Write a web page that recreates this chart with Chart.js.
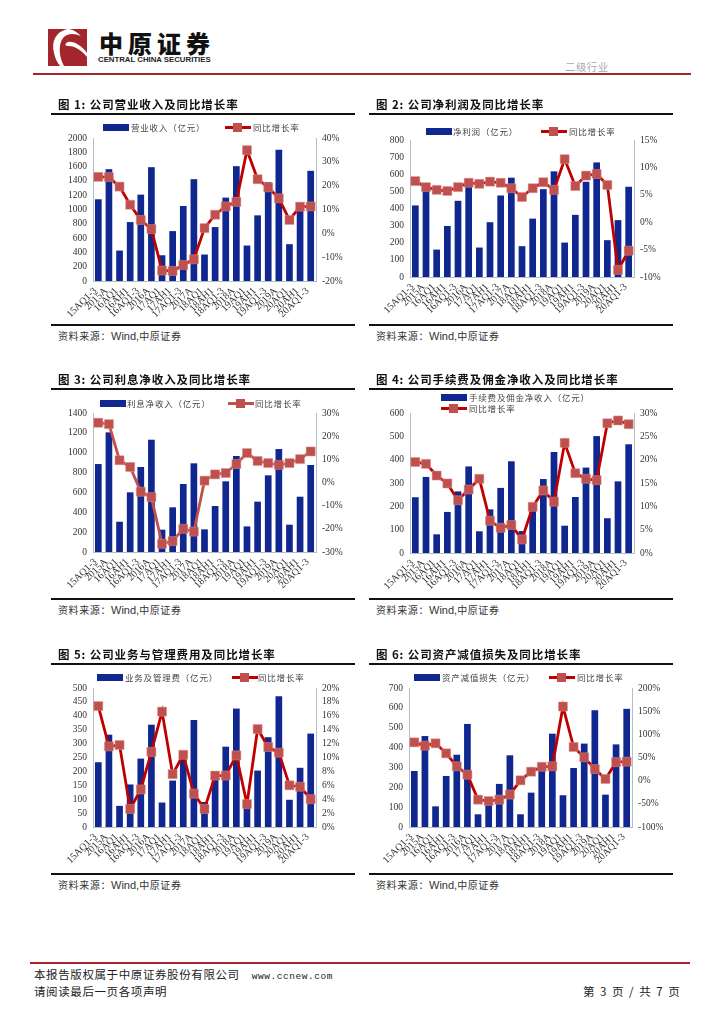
<!DOCTYPE html>
<html>
<head>
<meta charset="utf-8">
<script src="https://cdn.jsdelivr.net/npm/chart.js@4"></script>
<style>
html, body { margin: 0; padding: 0; background: #fff; }
body { position: relative; width: 724px; height: 1024px; overflow: hidden; font-family: "Noto Sans CJK SC", sans-serif; color: #222; }
.abs { position: absolute; white-space: nowrap; }
.panel { position: absolute; width: 304px; height: 260px; }
.panel canvas { position: absolute; left: 0; top: 0; }
.title { position: absolute; left: 7px; top: 0; font-size: 11.5px; font-weight: 700; letter-spacing: 0.9px; color: #111; line-height: 16px; white-space: nowrap; }
.rule { position: absolute; left: 0; width: 304px; height: 2px; background: #111; }
.source { position: absolute; left: 7px; font-size: 10px; letter-spacing: 0.6px; color: #333; line-height: 14px; white-space: nowrap; }
.source b { font-weight: 400; font-family: "Liberation Sans", sans-serif; font-size: 11px; letter-spacing: 0; }
.legend { position: absolute; font-size: 8.5px; letter-spacing: 0.8px; line-height: 12px; color: #444; white-space: nowrap; }
.swatch { position: absolute; }
.sline { position: absolute; height: 3px; }
.smark { position: absolute; width: 9px; height: 9px; background: #C0504D; }
</style>
</head>
<body>
<div class="abs" style="left:48px;top:29px;width:39px;height:37px;background:#a3262c;overflow:hidden">
  <svg width="39" height="37" viewBox="0 0 39 37">
    <path d="M19 0 C8 3 3 12 6 24 C7 29 9 33 12 37 L16 37 C11 28 10 16 15 9 C19 4 26 4 33 7 C27 1 23 0 19 0 Z" fill="#fff"/>
    <path d="M20 13 C26 12 34 17 39 24 L39 28 C33 21 27 17 21 17 C17 17 16 15 20 13 Z" fill="#fff"/>
  </svg>
</div>
<div class="abs" style="left:99px;top:28px;font-size:24px;line-height:30px;font-weight:900;color:#111;letter-spacing:5px">中原证券</div>
<div class="abs" style="left:98px;top:55px;font-size:7.8px;line-height:10px;font-weight:700;color:#222;font-family:'Liberation Sans',sans-serif">CENTRAL CHINA SECURITIES</div>
<div class="abs" style="left:565px;top:59px;font-size:10.5px;line-height:15px;color:#aaa;letter-spacing:.4px">二级行业</div>
<div class="abs" style="left:33px;top:73px;width:658px;height:2px;background:#a3262c"></div>

<div id="panels"></div>

<div class="abs" style="left:30px;top:962px;width:660px;height:2px;background:#a3262c"></div>
<div class="abs" style="left:34px;top:967px;font-size:11.5px;line-height:14px;letter-spacing:.6px;color:#222">本报告版权属于中原证券股份有限公司<span style="font-family:'Liberation Mono',monospace;font-weight:400;font-size:9.5px;margin-left:12px;letter-spacing:.55px">www.ccnew.com</span></div>
<div class="abs" style="left:34px;top:984px;font-size:11.5px;line-height:14px;letter-spacing:.6px;color:#222">请阅读最后一页各项声明</div>
<div class="abs" style="left:583px;top:984px;font-size:11.5px;line-height:14px;letter-spacing:1.5px;color:#222">第 3 页 / 共 7 页</div>

<script>
const categories = ['15AQ1-3', '2015A', '16AQ1', '16AH1', '16AQ1-3', '2016A', '17AQ1', '17AH1', '17AQ1-3', '2017A',
    '18AQ1', '18AH1', '18AQ1-3', '2018A', '19AQ1', '19AH1', '19AQ1-3', '2019A', '20AQ1', '20AH1', '20AQ1-3'];

const revenue = [1143, 1564, 426, 824, 1208, 1592, 360, 698, 1049, 1424, 370, 754, 1166, 1606, 496, 918, 1382, 1836, 515, 1040, 1541];
const revenueYoy = [23.7, 23.6, 19.6, 12, 5.6, 1.8, -15.6, -15.8, -13.3, -10.9, 2.2, 7.8, 11.3, 13.2, 34.9, 22.7, 19.3, 14.7, 5.6, 11.2, 11.3];

const profit = [418, 515, 160, 298, 445, 527, 172, 320, 476, 580, 180, 341, 513, 617, 201, 363, 556, 669, 215, 332, 527];
const profitYoy = [7.5, 6.4, 5.9, 5.7, 6.4, 7.2, 7.0, 7.4, 7.2, 6.2, 4.6, 6.2, 7.3, 5.9, 11.5, 6.6, 8.5, 8.8, 6.8, -8.7, -5.2];

const interest = [886, 1205, 305, 601, 856, 1131, 225, 450, 685, 893, 228, 463, 712, 967, 258, 507, 772, 1037, 275, 557, 876];
const interestYoy = [25.8, 25.2, 9.6, 6.7, -4, -6.3, -26.5, -25.3, -20, -21.2, 0.8, 3.5, 4.1, 8, 12.7, 9.3, 8.4, 7.6, 8.4, 10.1, 13.4];

const fee = [239, 326, 80, 176, 264, 371, 93, 187, 279, 393, 94, 195, 317, 433, 117, 240, 366, 501, 149, 307, 466];
const feeYoy = [19.5, 19.1, 16.6, 14.9, 11.3, 13.6, 15.9, 6.9, 5.4, 6, 2.9, 9.9, 13.4, 11, 23.6, 17.1, 15.9, 15.6, 27.8, 28.4, 27.6];

const expense = [233, 332, 76, 153, 246, 368, 88, 167, 258, 385, 90, 180, 289, 426, 75, 203, 323, 470, 98, 213, 336];
const expenseYoy = [17.4, 11.6, 11.8, 2.6, 5.4, 10.8, 16.6, 7.6, 10.4, 4.8, 2.6, 7.4, 7.4, 10.3, 3.3, 14.1, 11.5, 10.7, 6, 5.8, 4];

const impairment = [282, 458, 104, 257, 364, 519, 64, 117, 217, 361, 64, 173, 285, 470, 160, 297, 420, 588, 163, 416, 595];
const impairmentYoy = [82.7, 75.5, 80.6, 59, 31, 13, -41, -44, -41, -30, 0.7, 19.4, 30, 31, 160, 72.7, 50.4, 25, 3.6, 40, 41];

const BAR_COLOR = '#10278F';
const LINE_COLOR = '#C00000';
const MARK_COLOR = '#C0504D';
const AXIS_COLOR = '#B4BCC6';
const TICK_FONT = { family: '"Liberation Serif", serif', size: 9.5 };

// left/top of a panel on the page; plot box and legend spots are relative to that
const panels = [
    { left: 51, top: 96, title: '图 1:  公司营业收入及同比增长率', barName: '营业收入（亿元）', bars: revenue, yoy: revenueYoy,
      yMax: 2000, yStep: 200, rMin: -20, rMax: 40, rStep: 10, plot: [42, 42, 223, 143], ruleTop: 17, ruleBottom: 228, srcTop: 233,
      legBar: [52, 31, 26], legBarText: 80, legLine: [174, 31], legLineText: 202 },
    { left: 369, top: 96, title: '图 2:  公司净利润及同比增长率', barName: '净利润（亿元）', bars: profit, yoy: profitYoy,
      yMax: 800, yStep: 100, rMin: -10, rMax: 15, rStep: 5, plot: [41, 44, 224, 137], ruleTop: 17, ruleBottom: 228, srcTop: 233,
      legBar: [57, 35, 26], legBarText: 84, legLine: [172, 35], legLineText: 200 },
    { left: 51, top: 371, title: '图 3:  公司利息净收入及同比增长率', barName: '利息净收入（亿元）', bars: interest, yoy: interestYoy, lineColor: MARK_COLOR,
      yMax: 1400, yStep: 200, rMin: -30, rMax: 30, rStep: 10, plot: [42, 42, 223, 139], ruleTop: 17, ruleBottom: 227, srcTop: 232,
      legBar: [49, 32, 26], legBarText: 76, legLine: [177, 32], legLineText: 204 },
    { left: 369, top: 371, title: '图 4:  公司手续费及佣金净收入及同比增长率', barName: '手续费及佣金净收入（亿元）', bars: fee, yoy: feeYoy,
      yMax: 600, yStep: 100, rMin: 0, rMax: 30, rStep: 5, plot: [41, 42, 224, 140], ruleTop: 17, ruleBottom: 227, srcTop: 232,
      legBar: [72, 26, 26], legBarText: 100, legLine: [72, 37], legLineText: 100 },
    { left: 51, top: 646, title: '图 5:  公司业务与管理费用及同比增长率', barName: '业务及管理费（亿元）', bars: expense, yoy: expenseYoy,
      yMax: 500, yStep: 50, rMin: 0, rMax: 20, rStep: 2, plot: [42, 42, 223, 139], ruleTop: 17, ruleBottom: 227, srcTop: 232,
      legBar: [46, 31, 26], legBarText: 74, legLine: [181, 31], legLineText: 207 },
    { left: 369, top: 646, title: '图 6:  公司资产减值损失及同比增长率', barName: '资产减值损失（亿元）', bars: impairment, yoy: impairmentYoy,
      yMax: 700, yStep: 100, rMin: -100, rMax: 200, rStep: 50, plot: [40, 42, 223, 139], ruleTop: 17, ruleBottom: 227, srcTop: 232,
      legBar: [45, 31, 26], legBarText: 73, legLine: [180, 31], legLineText: 208 }
];

// keeps each plot box where the page needs it, whatever the tick labels measure
const fixPlotBox = {
    id: 'fixPlotBox',
    beforeLayout(chart, args, opts) {
        const [x, y, w, h] = opts.box;
        chart.options.layout.padding = { left: 0, top: y, right: 0, bottom: 0 };
        chart.options.scales.y.afterFit = s => { s.width = x; };
        chart.options.scales.right.afterFit = s => { s.width = chart.width - x - w; };
        chart.options.scales.x.afterFit = s => { s.height = chart.height - y - h; };
    }
};

const root = document.getElementById('panels');

function addDiv(parent, cls, css, text) {
    const d = document.createElement('div');
    d.className = cls;
    d.style.cssText = css;
    if (text) d.textContent = text;
    parent.appendChild(d);
    return d;
}

panels.forEach(p => {
    const box = addDiv(root, 'panel', `left:${p.left}px;top:${p.top}px`);
    const canvas = document.createElement('canvas');
    canvas.width = 304;
    canvas.height = 226;
    canvas.style.width = '304px';
    canvas.style.height = '226px';
    box.appendChild(canvas);

    addDiv(box, 'title', '', p.title);
    addDiv(box, 'rule', `top:${p.ruleTop}px`);
    addDiv(box, 'rule', `top:${p.ruleBottom}px`);
    addDiv(box, 'source', `top:${p.srcTop}px`).innerHTML = '资料来源：<b>Wind,</b>中原证券';

    // legend, hand placed because every figure has it somewhere else
    addDiv(box, 'swatch', `left:${p.legBar[0]}px;top:${p.legBar[1] - 3}px;width:${p.legBar[2]}px;height:7px;background:${BAR_COLOR}`);
    addDiv(box, 'legend', `left:${p.legBarText}px;top:${p.legBar[1] - 6}px`, p.barName);
    addDiv(box, 'sline', `left:${p.legLine[0]}px;top:${p.legLine[1] - 1}px;width:26px;background:${p.lineColor || LINE_COLOR}`);
    addDiv(box, 'smark', `left:${p.legLine[0] + 8}px;top:${p.legLine[1] - 4}px`);
    addDiv(box, 'legend', `left:${p.legLineText}px;top:${p.legLine[1] - 6}px`, '同比增长率');

    new Chart(canvas, {
        data: {
            labels: categories,
            datasets: [
                {
                    type: 'line',
                    label: '同比增长率',
                    data: p.yoy,
                    yAxisID: 'right',
                    borderColor: p.lineColor || LINE_COLOR,
                    borderWidth: 2.8,
                    pointStyle: 'rect',
                    pointRadius: 6.4,
                    pointBackgroundColor: MARK_COLOR,
                    pointBorderColor: 'rgba(214,150,148,0.8)',
                    pointBorderWidth: 0.6,
                    tension: 0,
                    order: 1
                },
                {
                    type: 'bar',
                    label: p.barName,
                    data: p.bars,
                    yAxisID: 'y',
                    backgroundColor: BAR_COLOR,
                    categoryPercentage: 1,
                    barPercentage: 0.63,
                    order: 2
                }
            ]
        },
        options: {
            responsive: false,
            animation: false,
            devicePixelRatio: 1,
            layout: { padding: 0 },
            plugins: {
                legend: { display: false },
                title: { display: false },
                tooltip: { enabled: false },
                fixPlotBox: { box: p.plot }
            },
            scales: {
                x: {
                    grid: { display: false, drawTicks: false },
                    border: { color: AXIS_COLOR },
                    ticks: {
                        autoSkip: false,
                        maxRotation: 45,
                        minRotation: 45,
                        padding: 4,
                        labelOffset: -3,
                        color: '#333',
                        font: { family: '"Liberation Serif", serif', size: 10 }
                    }
                },
                y: {
                    position: 'left',
                    min: 0,
                    max: p.yMax,
                    grid: { display: false, drawTicks: true, tickLength: 3, tickColor: AXIS_COLOR },
                    border: { color: AXIS_COLOR },
                    ticks: { autoSkip: false, stepSize: p.yStep, padding: 3, color: '#333', font: TICK_FONT, callback: v => String(v) }
                },
                right: {
                    position: 'right',
                    min: p.rMin,
                    max: p.rMax,
                    grid: { display: false, drawTicks: true, tickLength: 3, tickColor: AXIS_COLOR },
                    border: { color: AXIS_COLOR },
                    ticks: { autoSkip: false, stepSize: p.rStep, padding: 3, color: '#333', font: TICK_FONT, callback: v => v + '%' }
                }
            }
        },
        plugins: [fixPlotBox]
    });
});
</script>
</body>
</html>
